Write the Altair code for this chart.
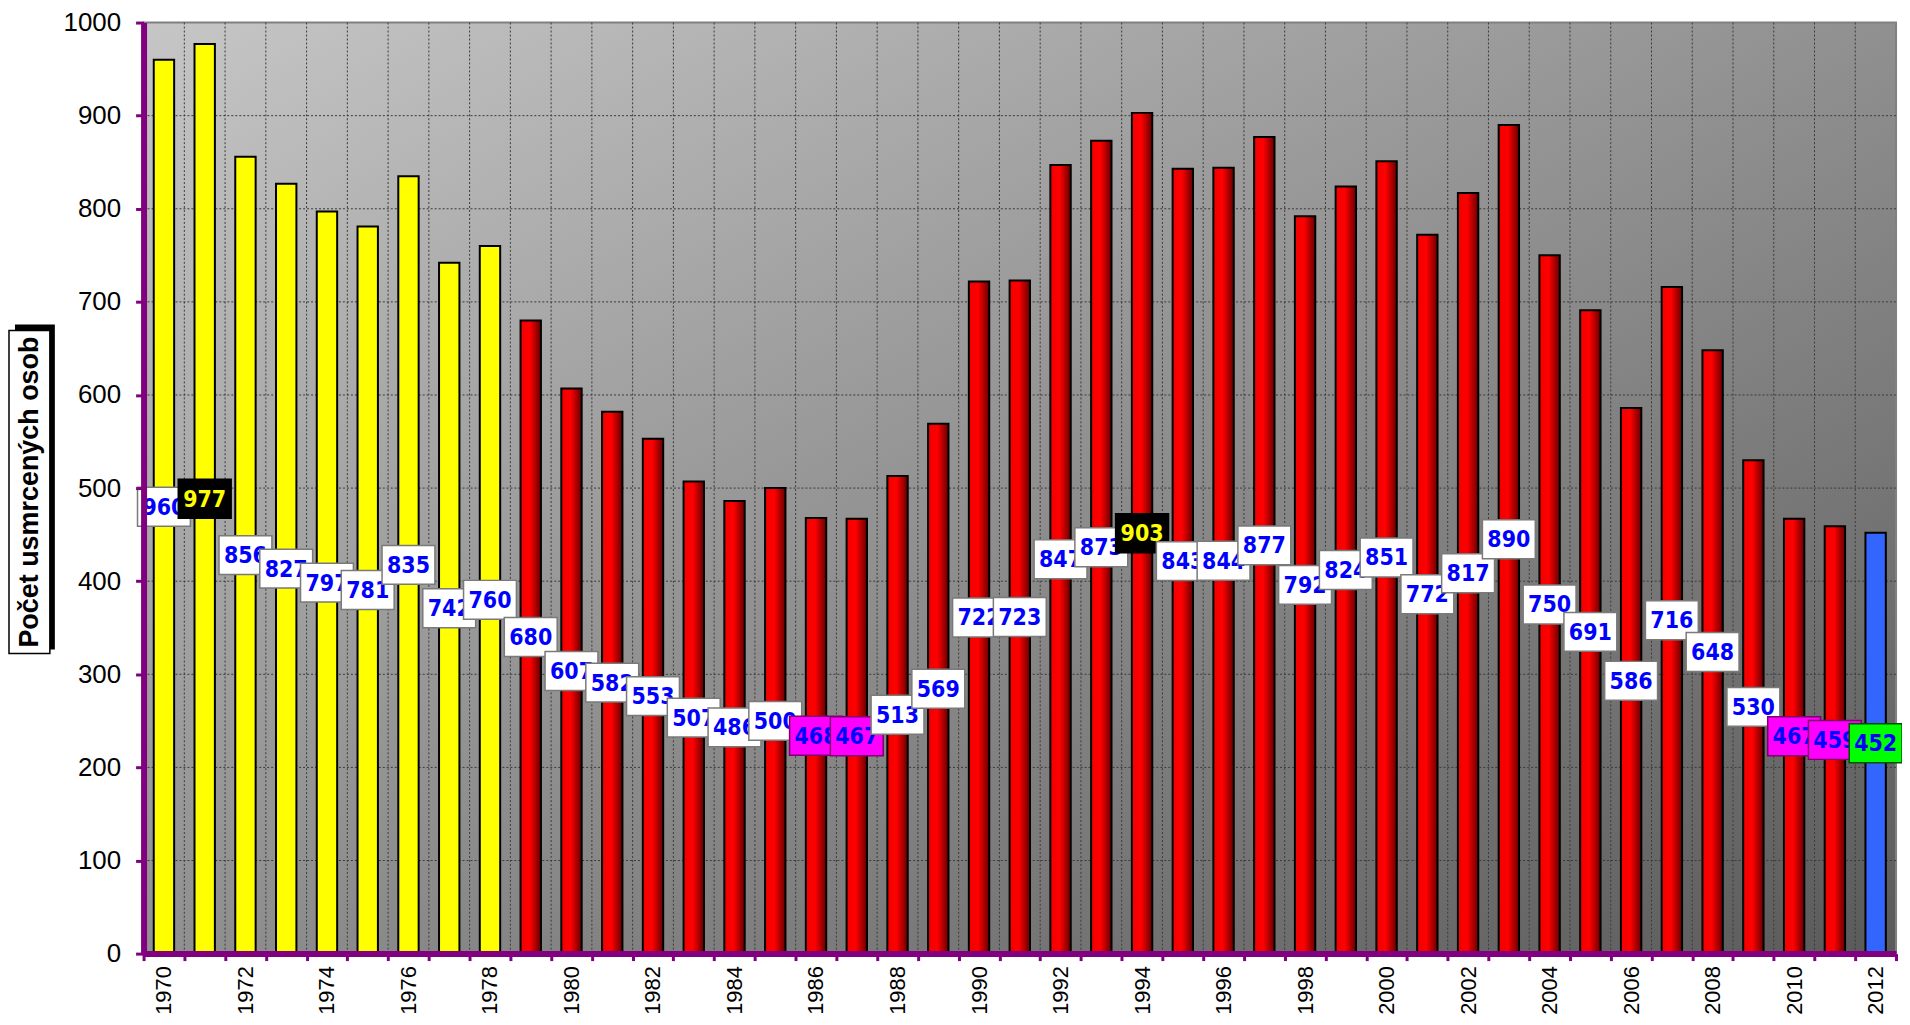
import altair as alt
import pandas as pd

# ---------------- data ----------------
years = list(range(1970, 2013))
deaths = [960, 977, 856, 827, 797, 781, 835, 742, 760, 680,
          607, 582, 553, 507, 486, 500, 468, 467, 513, 569,
          722, 723, 847, 873, 903, 843, 844, 877, 792, 824,
          851, 772, 817, 890, 750, 691, 586, 716, 648, 530,
          467, 459, 452]
periods = ["1970-1978"] * 9 + ["1979-2011"] * 33 + ["2012"]
special = {1971: "max", 1994: "max", 1986: "min", 1987: "min",
           2010: "min", 2011: "min", 2012: "current"}
label_kinds = [special.get(y, "normal") for y in years]
y_ticks = [0, 100, 200, 300, 400, 500, 600, 700, 800, 900, 1000]
y_title = "Počet usmrcených osob"

df = pd.DataFrame({"year": years, "value": deaths, "period": periods,
                   "kind": label_kinds})
df["label"] = df["value"].astype(str)
ticks_df = pd.DataFrame({"tick": y_ticks[1:-1]})
title_df = pd.DataFrame({"t": [y_title]})

W, H = 1758, 934
PURPLE = "#800080"
NARROW = "Liberation Sans Narrow, Arial Narrow, DejaVu Sans Condensed, sans-serif"

yscale = alt.Scale(domain=[0, 1000], nice=False)
xscale = alt.Scale(paddingInner=0, paddingOuter=0)

x_axis = alt.Axis(title=None, tickBand="extent", labelAngle=270,
                  labelExpr="datum.value % 2 == 0 ? datum.label : ''",
                  labelFont="Liberation Sans", labelFontSize=22,
                  labelColor="black", labelPadding=5, labelOverlap=False,
                  domainColor=PURPLE, domainWidth=6, tickColor=PURPLE,
                  tickWidth=3, tickSize=7, grid=False, zindex=1)
y_axis = alt.Axis(title=None, values=y_ticks, format="d",
                  labelFont="Liberation Sans",
                  labelFontSize=26, labelColor="black", labelPadding=15,
                  domainColor=PURPLE, domainWidth=6, tickColor=PURPLE,
                  tickWidth=3, tickSize=8, grid=False, zindex=1)


def X(**kw):
    return alt.X("year:O", scale=xscale, axis=x_axis, **kw)


def Y(field):
    return alt.Y(field, scale=yscale, axis=y_axis)


# background gradient
bg = alt.Chart(title_df).mark_rect(
    fill={"gradient": "linear", "x1": 0, "y1": 0, "x2": 1, "y2": 1,
          "stops": [{"offset": 0, "color": "#c6c6c6"},
                    {"offset": 1, "color": "#5a5a5a"}]},
    stroke="#808080", strokeWidth=2
).encode(x=alt.value(0), x2=alt.value(W), y=alt.value(0), y2=alt.value(H))

hgrid = alt.Chart(ticks_df).mark_rule(
    color="#3a3a3a", strokeDash=[2, 2], strokeWidth=1
).encode(y=Y("tick:Q"), x=alt.value(0), x2=alt.value(W))

vgrid = alt.Chart(df).mark_rule(
    color="#3a3a3a", strokeDash=[2, 2], strokeWidth=1
).encode(x=X(bandPosition=0), y=alt.value(0), y2=alt.value(H))

base = alt.Chart(df)

bars_y = base.transform_filter(alt.datum.period == "1970-1978").mark_bar(
    width={"band": 0.5}, fill="#ffff00", stroke="black", strokeWidth=2
).encode(x=X(), y=Y("value:Q"))

bars_r = base.transform_filter(alt.datum.period == "1979-2011").mark_bar(
    width={"band": 0.5}, stroke="black", strokeWidth=2,
    fill={"gradient": "linear", "x1": 0, "y1": 0, "x2": 1, "y2": 0,
          "stops": [{"offset": 0, "color": "#f00000"},
                    {"offset": 0.45, "color": "#ff0000"},
                    {"offset": 1, "color": "#650000"}]}
).encode(x=X(), y=Y("value:Q"))

bars_b = base.transform_filter(alt.datum.period == "2012").mark_bar(
    width={"band": 0.5}, fill="#3366ff", stroke="black", strokeWidth=2
).encode(x=X(), y=Y("value:Q"))

kind_dom = ["normal", "max", "min", "current"]
box_fill = alt.Scale(domain=kind_dom, range=["#ffffff", "#000000", "#ff00ff", "#00ff00"])
box_stroke = alt.Scale(domain=kind_dom, range=["#7a7a7a", "#000000", "#80006a", "#005000"])
text_col = alt.Scale(domain=kind_dom, range=["#0000ff", "#ffff00", "#0000ff", "#0000ff"])

# label boxes and texts, interleaved so each box covers the previous label
label_layers = []
for yr in years:
    one = base.transform_filter(alt.datum.year == yr).transform_calculate(
        mid="datum.value / 2")
    box = one.mark_point(
        shape="M-1.36,-1L1.36,-1L1.36,1L-1.36,1Z", size=1521, filled=True,
        opacity=1, strokeWidth=1.5
    ).encode(x=X(), y=Y("mid:Q"),
             fill=alt.Fill("kind:N", scale=box_fill, legend=None),
             stroke=alt.Stroke("kind:N", scale=box_stroke, legend=None))
    txt = one.mark_text(
        font=NARROW, fontSize=23, fontWeight="bold", baseline="middle",
        align="center", dy=1
    ).encode(x=X(), y=Y("mid:Q"), text="label:N",
             color=alt.Color("kind:N", scale=text_col, legend=None))
    label_layers += [box, txt]

# y-axis title in a shadowed box
t_shadow = alt.Chart(title_df).mark_rect(fill="black").encode(
    x=alt.value(-129), x2=alt.value(-89), y=alt.value(303), y2=alt.value(629))
t_box = alt.Chart(title_df).mark_rect(fill="white", stroke="black", strokeWidth=1.5).encode(
    x=alt.value(-135), x2=alt.value(-94), y=alt.value(309), y2=alt.value(633))
t_text = alt.Chart(title_df).mark_text(
    angle=270, fontSize=27, fontWeight="bold", font="Liberation Sans",
    color="black", align="center", baseline="middle"
).encode(x=alt.value(-114), y=alt.value(471), text="t:N")

chart = alt.layer(
    bg, hgrid, vgrid, bars_y, bars_r, bars_b, *label_layers,
    t_shadow, t_box, t_text
).properties(
    width=W, height=H,
    autosize=alt.AutoSizeParams(type="none"),
    padding={"left": 136, "top": 13, "right": 6, "bottom": 68},
    background="white"
).configure_view(stroke=None)

chart.save("out.html", embed_options={"renderer": "svg", "actions": False})
